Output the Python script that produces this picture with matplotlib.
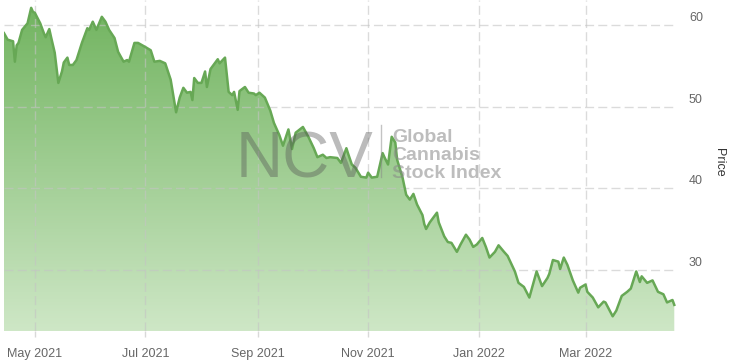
"""Global Cannabis Stock Index price chart (area with gradient fill)."""

import matplotlib
matplotlib.use('Agg')
import matplotlib.dates as mdates
import matplotlib.pyplot as plt
import numpy as np
import pandas as pd
from matplotlib.colors import LinearSegmentedColormap
from matplotlib.lines import Line2D

plt.rcParams['font.family'] = ['Liberation Sans', 'DejaVu Sans']
plt.rcParams['lines.scale_dashes'] = False

# Price readings (estimated from the chart)
dates = [
    '2021-04-14', '2021-04-16', '2021-04-19', '2021-04-20', '2021-04-21', '2021-04-22',
    '2021-04-24', '2021-04-27', '2021-04-29', '2021-04-30', '2021-05-01', '2021-05-04',
    '2021-05-05', '2021-05-06', '2021-05-07', '2021-05-09', '2021-05-10', '2021-05-12',
    '2021-05-14', '2021-05-16', '2021-05-17', '2021-05-19', '2021-05-20', '2021-05-22',
    '2021-05-24', '2021-05-27', '2021-05-30', '2021-05-31', '2021-06-02', '2021-06-04',
    '2021-06-07', '2021-06-09', '2021-06-11', '2021-06-14', '2021-06-16', '2021-06-19',
    '2021-06-21', '2021-06-22', '2021-06-25', '2021-06-27', '2021-07-01', '2021-07-04',
    '2021-07-06', '2021-07-09', '2021-07-12', '2021-07-15', '2021-07-18', '2021-07-20',
    '2021-07-22', '2021-07-24', '2021-07-26', '2021-07-27', '2021-07-28', '2021-07-30',
    '2021-08-01', '2021-08-03', '2021-08-04', '2021-08-06', '2021-08-10', '2021-08-11',
    '2021-08-14', '2021-08-16', '2021-08-18', '2021-08-19', '2021-08-21', '2021-08-22',
    '2021-08-25', '2021-08-27', '2021-08-30', '2021-08-31', '2021-09-02', '2021-09-05',
    '2021-09-08', '2021-09-10', '2021-09-13', '2021-09-15', '2021-09-18', '2021-09-20',
    '2021-09-22', '2021-09-26', '2021-09-29', '2021-10-02', '2021-10-04', '2021-10-07',
    '2021-10-09', '2021-10-11', '2021-10-15', '2021-10-17', '2021-10-20', '2021-10-21',
    '2021-10-23', '2021-10-25', '2021-10-28', '2021-10-31', '2021-11-01', '2021-11-03',
    '2021-11-06', '2021-11-09', '2021-11-10', '2021-11-12', '2021-11-14', '2021-11-16',
    '2021-11-17', '2021-11-20', '2021-11-22', '2021-11-24', '2021-11-26', '2021-11-28',
    '2021-12-01', '2021-12-02', '2021-12-03', '2021-12-05', '2021-12-06', '2021-12-09',
    '2021-12-10', '2021-12-13', '2021-12-15', '2021-12-17', '2021-12-20', '2021-12-22',
    '2021-12-25', '2021-12-27', '2021-12-29', '2021-12-31', '2022-01-03', '2022-01-05',
    '2022-01-07', '2022-01-10', '2022-01-12', '2022-01-15', '2022-01-17', '2022-01-21',
    '2022-01-23', '2022-01-26', '2022-01-29', '2022-01-30', '2022-02-02', '2022-02-05',
    '2022-02-08', '2022-02-09', '2022-02-11', '2022-02-14', '2022-02-15', '2022-02-17',
    '2022-02-19', '2022-02-22', '2022-02-25', '2022-02-26', '2022-03-01', '2022-03-02',
    '2022-03-05', '2022-03-08', '2022-03-11', '2022-03-12', '2022-03-16', '2022-03-18',
    '2022-03-21', '2022-03-24', '2022-03-26', '2022-03-29', '2022-03-31', '2022-04-01',
    '2022-04-04', '2022-04-07', '2022-04-10', '2022-04-13', '2022-04-15', '2022-04-18',
    '2022-04-19',
]
prices = [
    59.0, 58.2, 58.0, 55.5, 57.5, 57.8,
    59.4, 60.2, 62.1, 61.6, 61.5, 60.2,
    59.6, 59.0, 58.5, 59.5, 58.5, 56.6,
    52.9, 54.3, 55.4, 56.0, 55.1, 55.1,
    55.7, 57.8, 59.6, 59.4, 60.4, 59.4,
    61.0, 60.4, 59.4, 58.4, 56.7, 55.5,
    55.7, 55.5, 57.8, 57.8, 57.3, 56.9,
    55.5, 55.6, 55.3, 53.3, 49.3, 51.1,
    52.3, 51.7, 51.8, 50.8, 53.5, 52.9,
    52.9, 54.3, 52.4, 54.6, 55.8, 55.3,
    56.0, 51.8, 51.4, 51.8, 49.6, 51.9,
    52.4, 51.7, 51.6, 51.4, 51.7, 51.1,
    49.5, 48.0, 46.5, 45.2, 47.2, 44.8,
    46.8, 47.5, 46.3, 44.9, 43.8, 44.1,
    43.7, 43.8, 43.7, 43.1, 44.9, 44.2,
    42.9, 42.5, 41.4, 41.3, 41.9, 41.3,
    41.4, 44.3, 43.8, 42.9, 46.3, 45.6,
    43.5, 41.3, 39.2, 38.6, 39.3, 38.0,
    36.7, 35.6, 35.0, 35.8, 36.1, 37.0,
    35.8, 34.1, 33.4, 33.3, 32.2, 33.1,
    34.3, 33.7, 32.8, 33.1, 33.9, 32.8,
    31.5, 32.2, 33.0, 32.2, 31.7, 29.8,
    28.4, 27.9, 26.6, 27.4, 29.8, 28.0,
    29.0, 29.5, 31.2, 31.0, 30.1, 31.5,
    30.6, 28.7, 27.2, 27.8, 28.2, 27.3,
    26.6, 25.4, 26.1, 26.0, 24.3, 25.0,
    26.8, 27.3, 27.7, 29.8, 28.5, 29.2,
    28.4, 28.7, 27.3, 27.0, 26.0, 26.3,
    25.7,
]
y_ticks = [30, 40, 50, 60]

series = pd.Series(prices, index=pd.to_datetime(dates))

W, H = 734, 361
fig = plt.figure(figsize=(W / 100, H / 100), dpi=100)
ax = fig.add_axes([4 / W, 30 / H, 673 / W, 331 / H])

x = mdates.date2num(series.index.to_pydatetime())
y = series.values
ylim = (22.5, 63.06)
xlim = (x[0], x[-1] + 1.5)

# Gradient area fill, clipped to the area under the line
grad = LinearSegmentedColormap.from_list('grad', ['#cee7c6', '#70b35e'])
poly = ax.fill_between(x, y, ylim[0], facecolor='none', edgecolor='none')
im = ax.imshow(np.linspace(0, 1, 256).reshape(-1, 1), cmap=grad, aspect='auto',
               origin='lower', extent=[xlim[0], xlim[1], ylim[0], ylim[1]],
               zorder=1)
im.set_clip_path(poly.get_paths()[0], transform=ax.transData)
ax.plot(x, y, color='#67a855', lw=1.8, zorder=3, solid_joinstyle='round')

ax.set_xlim(*xlim)
ax.set_ylim(*ylim)

# Grid (drawn faintly over the fill) and ticks
ax.set_yticks(y_ticks)
ax.xaxis.set_major_locator(mdates.MonthLocator(bymonth=[1, 3, 5, 7, 9, 11]))
ax.xaxis.set_major_formatter(mdates.DateFormatter('%b %Y'))
ax.grid(True, color='#c4c4c4', alpha=0.6, lw=1.0, linestyle=(0, (6.5, 3.0)))
for gl in ax.get_xgridlines() + ax.get_ygridlines():
    gl.set_zorder(2)
ax.tick_params(axis='x', length=4, width=1, color='#d9d9d9', pad=8,
               labelsize=9, labelcolor='#666666')
ax.tick_params(axis='y', left=False, labelleft=False, length=0)
for s in ax.spines.values():
    s.set_visible(False)

# Right-side price labels sitting just above their gridlines
for v in y_ticks:
    ax.annotate(str(v), xy=(1, v), xycoords=('axes fraction', 'data'),
                xytext=(12, 7), textcoords='offset pixels', ha='left',
                va='center', fontsize=9, color='#666666')
fig.text(719 / W, 1 - 162 / H, 'Price', rotation=270, ha='center', va='center',
         fontsize=9, color='#333333')

# Watermark
fig.text(236 / W, 1 - 177 / H, 'NCV', fontsize=47, color='#555555', alpha=0.4,
         ha='left', va='baseline', zorder=5)
fig.add_artist(Line2D([381 / W, 381 / W], [1 - 125 / H, 1 - 177 / H],
                      color='#888888', alpha=0.5, lw=1))
for label, base in [('Global', 142), ('Cannabis', 160), ('Stock Index', 178)]:
    fig.text(392 / W, 1 - base / H, label, fontsize=14, fontweight='bold',
             color='#888888', alpha=0.55, ha='left', va='baseline', zorder=5)

fig.savefig('out.png', dpi=100)
plt.close(fig)
